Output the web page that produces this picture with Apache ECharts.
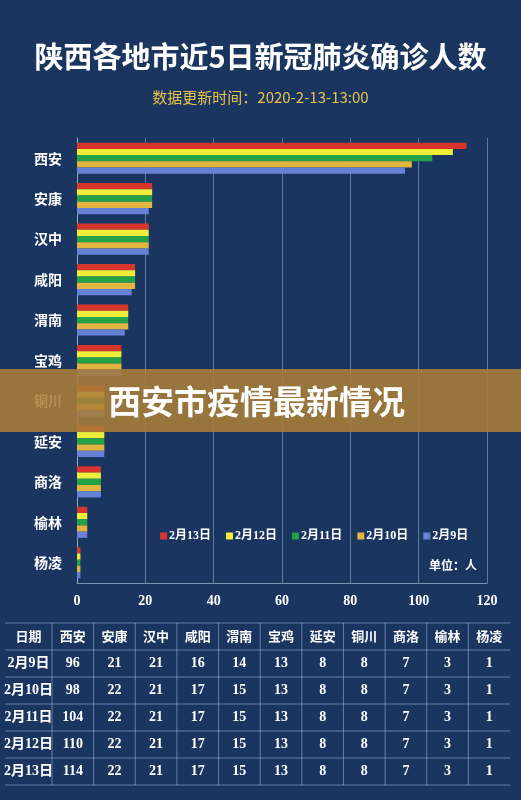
<!DOCTYPE html>
<html>
<head>
<meta charset="utf-8">
<script src="https://cdn.jsdelivr.net/npm/echarts@6/dist/echarts.min.js"></script>
<style>
html, body {margin: 0; padding: 0; background: #1b3561;}
#chart {width: 521px; height: 800px;}
</style>
</head>
<body>
<div id="chart"></div>
<script>
// 城市 (表格顺序) / 图中顺序 / 日期
var cities = ['西安', '安康', '汉中', '咸阳', '渭南', '宝鸡', '延安', '铜川', '商洛', '榆林', '杨凌'];
var chartCities = ['西安', '安康', '汉中', '咸阳', '渭南', '宝鸡', '铜川', '延安', '商洛', '榆林', '杨凌'];
var dates = ['2月13日', '2月12日', '2月11日', '2月10日', '2月9日'];
// 每日确诊人数 (表格顺序)
var feb13 = [114, 22, 21, 17, 15, 13, 8, 8, 7, 3, 1];
var feb12 = [110, 22, 21, 17, 15, 13, 8, 8, 7, 3, 1];
var feb11 = [104, 22, 21, 17, 15, 13, 8, 8, 7, 3, 1];
var feb10 = [98, 22, 21, 17, 15, 13, 8, 8, 7, 3, 1];
var feb9 = [96, 21, 21, 16, 14, 13, 8, 8, 7, 3, 1];
var xTicks = [0, 20, 40, 60, 80, 100, 120];
var colors = ['#d8352c', '#eeee3a', '#25a246', '#e2b541', '#6582d6'];

var seriesData = [feb13, feb12, feb11, feb10, feb9];
var serif = '"Liberation Serif", "Noto Sans CJK SC", serif';
var sans = '"Noto Sans CJK SC", sans-serif';

function toChartOrder(arr) {
    return chartCities.map(function (name) { return arr[cities.indexOf(name)]; });
}

// 表格 (日期升序)
var tableRows = [
    ['2月9日'].concat(feb9),
    ['2月10日'].concat(feb10),
    ['2月11日'].concat(feb11),
    ['2月12日'].concat(feb12),
    ['2月13日'].concat(feb13)
];
var tableHead = ['日期'].concat(cities);

var graphics = [];
var tx0 = 5, tx1 = 510, ty0 = 623, rowH = 27, firstW = 47;
var colW = (tx1 - tx0 - firstW) / cities.length;
function colCenter(i) {
    return i === 0 ? tx0 + firstW / 2 : tx0 + firstW + colW * (i - 0.5);
}
var lineStyle = {stroke: 'rgba(160,185,225,0.55)', lineWidth: 1};
for (var r = 0; r <= tableRows.length + 1; r++) {
    graphics.push({type: 'line', shape: {x1: tx0, y1: ty0 + r * rowH, x2: tx1, y2: ty0 + r * rowH}, style: lineStyle});
}
for (var c = 0; c < cities.length; c++) {
    var vx = tx0 + firstW + c * colW;
    graphics.push({type: 'line', shape: {x1: vx, y1: ty0, x2: vx, y2: ty0 + (tableRows.length + 1) * rowH}, style: lineStyle});
}
tableHead.forEach(function (t, i) {
    graphics.push({type: 'text', x: colCenter(i), y: ty0 + rowH / 2, style: {
        text: t, fill: '#fff', font: 'bold 13px ' + sans, textAlign: 'center', textVerticalAlign: 'middle'}});
});
tableRows.forEach(function (row, ri) {
    row.forEach(function (v, i) {
        graphics.push({type: 'text', x: colCenter(i), y: ty0 + rowH * (ri + 1.5), style: {
            text: String(v), fill: '#fff', font: 'bold 14px ' + serif, textAlign: 'center', textVerticalAlign: 'middle'}});
    });
});
// 单位
graphics.push({type: 'text', x: 453, y: 565, style: {
    text: '单位：人', fill: '#fff', font: 'bold 12px ' + sans, textAlign: 'center', textVerticalAlign: 'middle'}});
// 横幅
graphics.push({type: 'rect', z: 100, shape: {x: 0, y: 369, width: 521, height: 63}, style: {fill: 'rgba(170,126,56,0.87)'}});
graphics.push({type: 'text', z: 101, x: 108, y: 401, style: {
    text: '西安市疫情最新情况', fill: '#fff', font: 'bold 33px ' + sans, textVerticalAlign: 'middle'}});

var chart = echarts.init(document.getElementById('chart'));
chart.setOption({
    backgroundColor: '#1b3561',
    color: colors,
    title: [{
        text: '陕西各地市近5日新冠肺炎确诊人数',
        left: 'center', top: 37,
        textStyle: {color: '#fff', fontSize: 29, fontWeight: 'bold', fontFamily: sans}
    }, {
        text: '数据更新时间：2020-2-13-13:00',
        left: 'center', top: 85,
        textStyle: {color: '#e6c24a', fontSize: 15, fontWeight: 'normal', fontFamily: sans}
    }],
    legend: {
        data: dates,
        left: 155, top: 525,
        itemWidth: 7, itemHeight: 7, itemGap: 15,
        icon: 'rect',
        textStyle: {color: '#fff', fontSize: 12, fontWeight: 'bold', fontFamily: serif, padding: [0, 0, 0, -3]}
    },
    grid: {left: 77, right: 34, top: 138, bottom: 217},
    xAxis: {
        type: 'value', min: 0, max: 120, interval: 20,
        axisLine: {show: true, lineStyle: {color: 'rgba(190,205,230,0.6)'}},
        axisTick: {show: false},
        splitLine: {lineStyle: {color: 'rgba(190,205,230,0.45)'}},
        axisLabel: {color: '#fff', fontSize: 14, fontWeight: 'bold', fontFamily: serif, margin: 11,
            customValues: xTicks}
    },
    yAxis: {
        type: 'category', data: chartCities, inverse: true,
        axisLine: {lineStyle: {color: 'rgba(190,205,230,0.6)'}},
        axisTick: {length: 4, lineStyle: {color: 'rgba(190,205,230,0.6)'}},
        axisLabel: {color: '#fff', fontSize: 14, fontWeight: 'bold', fontFamily: sans, margin: 15}
    },
    series: dates.map(function (d, i) {
        return {name: d, type: 'bar', data: toChartOrder(seriesData[i]), barGap: '0%', barCategoryGap: '23%'};
    }),
    graphic: graphics
});
</script>
</body>
</html>
